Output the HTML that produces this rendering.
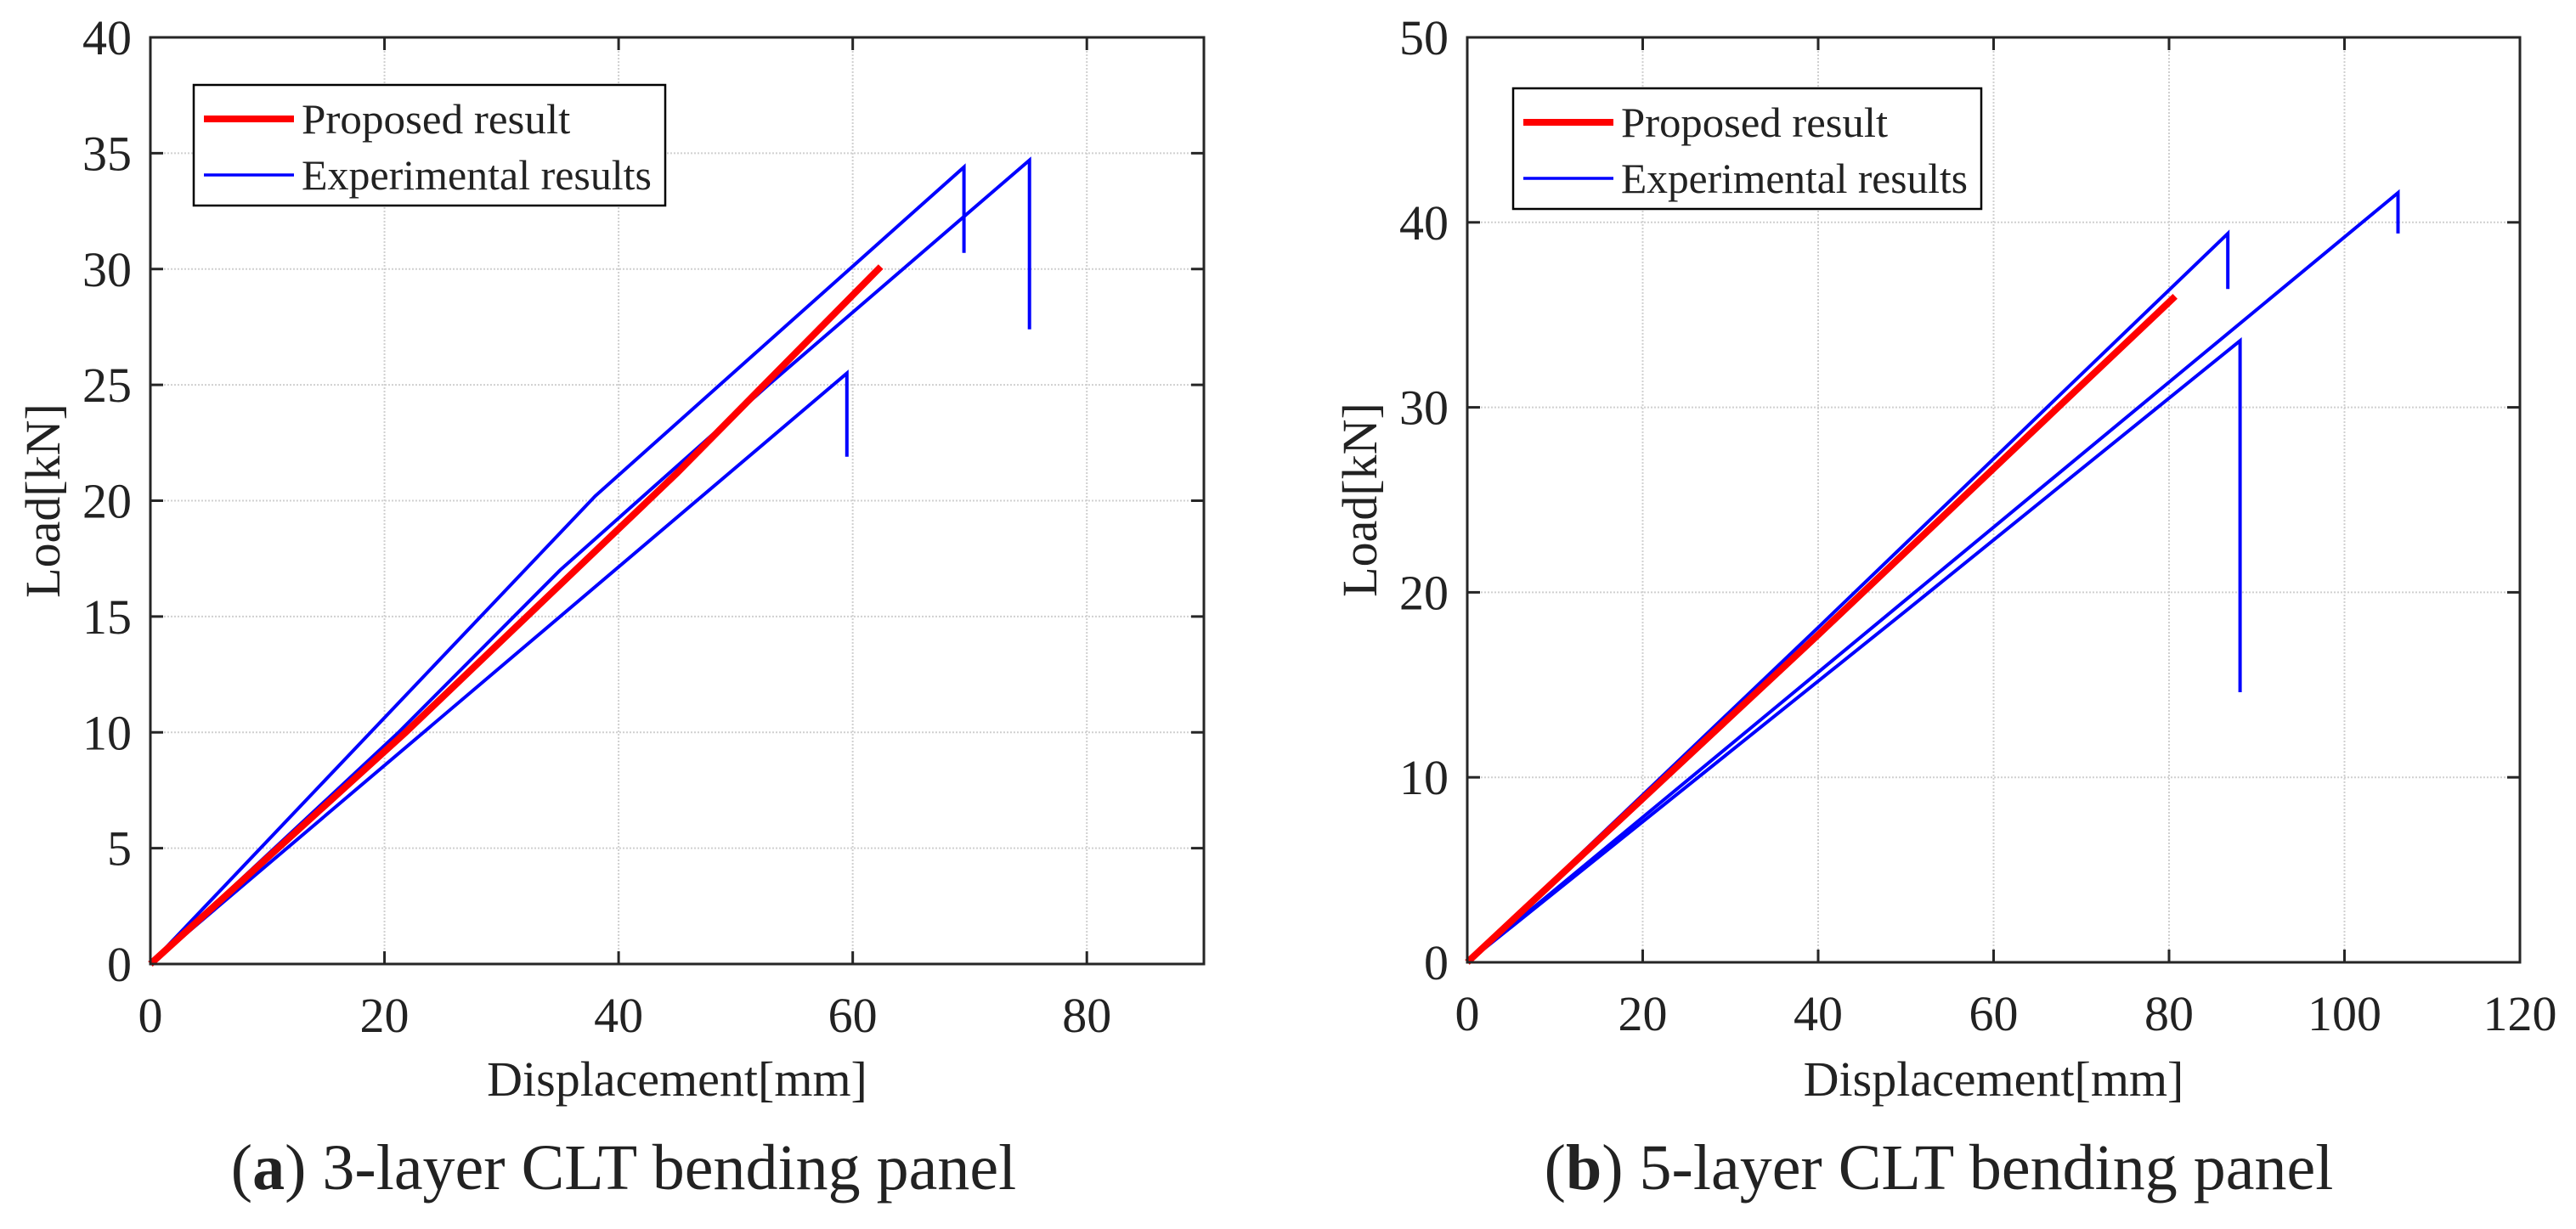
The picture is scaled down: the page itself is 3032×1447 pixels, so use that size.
<!DOCTYPE html>
<html><head><meta charset="utf-8">
<style>
html,body{margin:0;padding:0;background:#fff;}
svg{display:block;}
text{font-family:"Liberation Serif",serif;fill:#222;}
</style></head>
<body>
<svg id="fig" width="3032" height="1447" viewBox="0 0 3032 1447" xmlns="http://www.w3.org/2000/svg"></svg>
<script>
// ---- Panel (a) data ----
const aXTicks = [0, 20, 40, 60, 80];
const aYTicks = [0, 5, 10, 15, 20, 25, 30, 35, 40];
const aProposedX = [0, 21.8, 45, 62.4];
const aProposedY = [0, 10, 21.2, 30.1];
const aExp1X = [0, 38, 69.5, 69.5];
const aExp1Y = [0, 20.2, 34.4, 30.7];
const aExp2X = [0, 21.2, 35, 52.8, 75.1, 75.1];
const aExp2Y = [0, 10, 17.0, 25, 34.7, 27.4];
const aExp3X = [0, 59.5, 59.5];
const aExp3Y = [0, 25.5, 21.9];
// ---- Panel (b) data ----
const bXTicks = [0, 20, 40, 60, 80, 100, 120];
const bYTicks = [0, 10, 20, 30, 40, 50];
const bProposedX = [0, 40, 80.7];
const bProposedY = [0, 17.7, 36.0];
const bExpAX = [0, 40, 86.7, 86.7];
const bExpAY = [0, 18.1, 39.4, 36.4];
const bExpBX = [0, 50, 106.1, 106.1];
const bExpBY = [0, 19.6, 41.6, 39.4];
const bExpCX = [0, 50, 88.1, 88.1];
const bExpCY = [0, 19.0, 33.6, 14.6];

const NS = "http://www.w3.org/2000/svg";
const svg = document.getElementById('fig');
function mk(tag, attrs, parent) {
  const e = document.createElementNS(NS, tag);
  for (const k in attrs) e.setAttribute(k, attrs[k]);
  (parent || svg).appendChild(e);
  return e;
}

function panel(cfg) {
  const g = mk('g', {});
  
  
  const {L, R, T, B, xmax, ymax} = cfg;
  const sx = v => L + (R - L) * v / xmax;
  const sy = v => B - (B - T) * v / ymax;
  cfg.xt.forEach(v => {
    if (v > 0 && v < xmax) {
      const l = mk('line', {x1: sx(v), x2: sx(v), y1: T, y2: B, stroke: '#d0d0d0', 'stroke-width': 2, 'stroke-dasharray': '2,2'}, g);
      
      
    }
  });
  cfg.yt.forEach(v => {
    if (v > 0 && v < ymax) {
      const l = mk('line', {x1: L, x2: R, y1: sy(v), y2: sy(v), stroke: '#d0d0d0', 'stroke-width': 2, 'stroke-dasharray': '2,2'}, g);
      
      
    }
  });
  cfg.series.forEach(s => {
    const pts = s.x.map((v, i) => sx(v).toFixed(1) + ',' + sy(s.y[i]).toFixed(1)).join(' ');
    const p = mk('polyline', {points: pts, fill: 'none', stroke: s.color, 'stroke-width': s.w, 'stroke-linejoin': 'miter'}, g);
    
    
  });
  const box = mk('rect', {x: L, y: T, width: R - L, height: B - T, fill: 'none', stroke: '#262626', 'stroke-width': 3}, g);
  
  
  cfg.xt.forEach(v => {
    mk('line', {x1: sx(v), x2: sx(v), y1: B, y2: B - 15, stroke: '#262626', 'stroke-width': 3}, g);
    mk('line', {x1: sx(v), x2: sx(v), y1: T, y2: T + 15, stroke: '#262626', 'stroke-width': 3}, g);
    const t = mk('text', {x: sx(v), y: B + 80, 'font-size': 58, 'text-anchor': 'middle'}, g);
    t.textContent = v;
    
    
  });
  cfg.yt.forEach(v => {
    mk('line', {x1: L, x2: L + 15, y1: sy(v), y2: sy(v), stroke: '#262626', 'stroke-width': 3}, g);
    mk('line', {x1: R, x2: R - 15, y1: sy(v), y2: sy(v), stroke: '#262626', 'stroke-width': 3}, g);
    const t = mk('text', {x: L - 22, y: sy(v) + 20, 'font-size': 58, 'text-anchor': 'end'}, g);
    t.textContent = v;
    
    
  });
  const xt = mk('text', {x: (L + R) / 2, y: 1290, 'font-size': 58, 'text-anchor': 'middle'}, g);
  xt.textContent = 'Displacement[mm]';
  
  
  const yt = mk('text', {x: 0, y: 0, 'font-size': 58, 'text-anchor': 'middle', transform: `translate(${cfg.ytx},${(T + B) / 2}) rotate(-90)`}, g);
  yt.textContent = 'Load[kN]';
  
  
  const lg = mk('g', {}, g);
  
  
  const Lx = cfg.legX, Ly = cfg.legY;
  mk('rect', {x: Lx, y: Ly, width: cfg.legW, height: 142, fill: '#fff', stroke: '#000', 'stroke-width': 2.5}, lg);
  mk('line', {x1: Lx + 12, x2: Lx + 118, y1: Ly + 40, y2: Ly + 40, stroke: '#ff0000', 'stroke-width': 8}, lg);
  mk('line', {x1: Lx + 12, x2: Lx + 118, y1: Ly + 106, y2: Ly + 106, stroke: '#0000ff', 'stroke-width': 3.5}, lg);
  const t1 = mk('text', {x: Lx + 127, y: Ly + 57, 'font-size': 50, textLength: cfg.legW * 0.57, lengthAdjust: 'spacingAndGlyphs'}, lg);
  t1.textContent = 'Proposed result';
  
  
  const t2 = mk('text', {x: Lx + 127, y: Ly + 123, 'font-size': 50, textLength: cfg.legW - 143, lengthAdjust: 'spacingAndGlyphs'}, lg);
  t2.textContent = 'Experimental results';
  
  
  const cap = mk('text', {x: cfg.capX, y: 1400, 'font-size': 76, 'text-anchor': 'middle'}, g);
  cap.innerHTML = '(<tspan font-weight="bold">' + cfg.capLetter + '</tspan>) ' + cfg.capText;
  
  
}

panel({name: 'panel-a-chart', L: 177, R: 1417, T: 44, B: 1135, xmax: 90, ymax: 40,
  xt: aXTicks, yt: aYTicks, ytx: 70, legX: 228, legY: 100, legW: 555,
  capX: 734, capLetter: 'a', capText: '3-layer CLT bending panel',
  series: [
    {name: 'exp-series-1', x: aExp1X, y: aExp1Y, color: '#0000ff', w: 4},
    {name: 'exp-series-2', x: aExp2X, y: aExp2Y, color: '#0000ff', w: 4},
    {name: 'exp-series-3', x: aExp3X, y: aExp3Y, color: '#0000ff', w: 4},
    {name: 'proposed-series', x: aProposedX, y: aProposedY, color: '#ff0000', w: 8}
  ]});

panel({name: 'panel-b-chart', L: 1727, R: 2966, T: 44, B: 1133, xmax: 120, ymax: 50,
  xt: bXTicks, yt: bYTicks, ytx: 1620, legX: 1781, legY: 104, legW: 551,
  capX: 2282, capLetter: 'b', capText: '5-layer CLT bending panel',
  series: [
    {name: 'exp-series-a', x: bExpAX, y: bExpAY, color: '#0000ff', w: 4},
    {name: 'exp-series-b', x: bExpBX, y: bExpBY, color: '#0000ff', w: 4},
    {name: 'exp-series-c', x: bExpCX, y: bExpCY, color: '#0000ff', w: 4},
    {name: 'proposed-series', x: bProposedX, y: bProposedY, color: '#ff0000', w: 8}
  ]});
</script>
</body></html>
